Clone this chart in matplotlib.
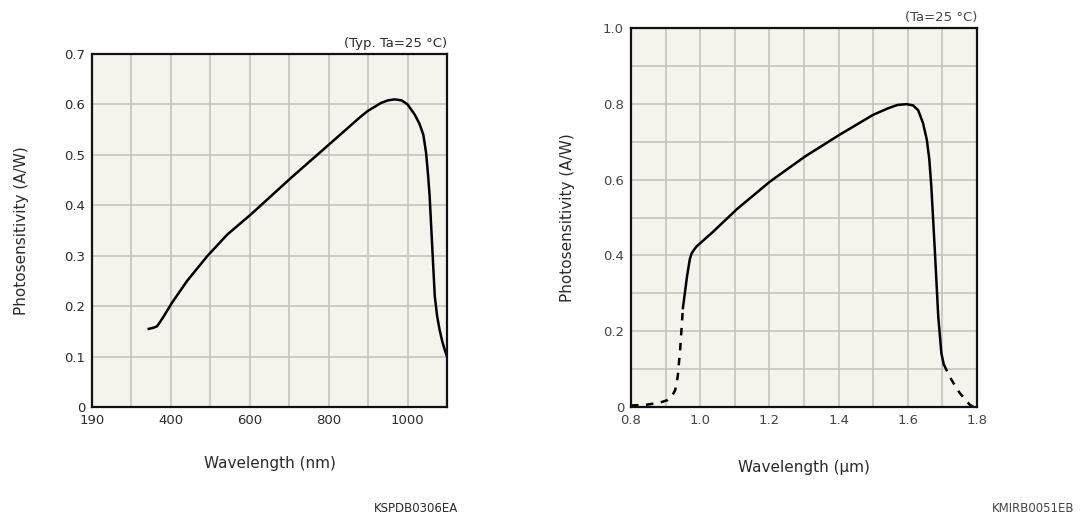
import matplotlib
matplotlib.use("Agg")
import matplotlib.pyplot as plt

# Left chart: Si photodiode (nm, A/W)
si_wavelength = [344, 355, 365, 372, 382, 403, 441, 492, 543, 603, 704, 806, 880,
                 899, 933, 950, 967, 985, 1000, 1018, 1030, 1040, 1047, 1052, 1056,
                 1062, 1069, 1075, 1081, 1088, 1094, 1100]
si_sensitivity = [0.155, 0.157, 0.160, 0.168, 0.180, 0.207, 0.250, 0.299, 0.342,
                  0.382, 0.454, 0.524, 0.575, 0.587, 0.603, 0.608, 0.610, 0.608,
                  0.600, 0.580, 0.562, 0.540, 0.504, 0.460, 0.418, 0.326, 0.220,
                  0.180, 0.154, 0.130, 0.114, 0.100]
si_ticks = [200, 400, 600, 800, 1000]
si_tick_labels = ["190", "400", "600", "800", "1000"]

# Right chart: InGaAs (um, A/W) - solid part and dashed tails
ingaas_wavelength = [0.950, 0.962, 0.970, 0.975, 0.983, 0.990, 1.038, 1.106, 1.202,
                     1.303, 1.404, 1.500, 1.540, 1.570, 1.596, 1.615, 1.630, 1.644,
                     1.655, 1.662, 1.668, 1.678, 1.688, 1.697, 1.704]
ingaas_sensitivity = [0.261, 0.345, 0.390, 0.405, 0.416, 0.424, 0.463, 0.522, 0.595,
                      0.661, 0.719, 0.771, 0.787, 0.797, 0.799, 0.796, 0.783, 0.749,
                      0.705, 0.655, 0.582, 0.415, 0.239, 0.142, 0.112]
tail_left_wavelength = [0.800, 0.846, 0.885, 0.905, 0.918, 0.928, 0.935, 0.942, 0.950]
tail_left_sensitivity = [0.004, 0.006, 0.012, 0.018, 0.028, 0.045, 0.080, 0.151, 0.261]
tail_right_wavelength = [1.704, 1.726, 1.750, 1.779, 1.790]
tail_right_sensitivity = [0.112, 0.072, 0.037, 0.006, 0.0]

W, H = 1082, 520
fig = plt.figure(figsize=(W / 100, H / 100), dpi=100)
fig.patch.set_facecolor("white")

bg = "#f4f3ec"
grid_color = "#c4c4bc"
text_color = "#2a2a2a"


def px_axes(x0, y0, x1, y1):
    return fig.add_axes([x0 / W, 1 - y1 / H, (x1 - x0) / W, (y1 - y0) / H])


def style(ax):
    ax.set_facecolor(bg)
    ax.grid(True, color=grid_color, linewidth=1.2)
    ax.set_axisbelow(True)
    for s in ax.spines.values():
        s.set_linewidth(1.6)
        s.set_color("#111111")
    ax.tick_params(length=0, labelsize=9.5, labelcolor=text_color, pad=5)


# left
ax1 = px_axes(92, 54, 447, 407)
style(ax1)
ax1.plot(si_wavelength, si_sensitivity, color="black", linewidth=1.8)
ax1.set_xlim(200, 1100)
ax1.set_ylim(0, 0.7)
ax1.set_xticks(si_ticks)
ax1.set_xticklabels(si_tick_labels)
ax1.set_xticks(range(300, 1100, 200), minor=True)
ax1.xaxis.grid(True, which="minor", color=grid_color, linewidth=1.2)
ax1.tick_params(which="minor", length=0)
ax1.set_yticks([0, 0.1, 0.2, 0.3, 0.4, 0.5, 0.6, 0.7])
ax1.set_yticklabels(["0", "0.1", "0.2", "0.3", "0.4", "0.5", "0.6", "0.7"])
ax1.set_ylabel("Photosensitivity (A/W)", fontsize=11, color=text_color, labelpad=25)
ax1.set_xlabel("Wavelength (nm)", fontsize=11, color=text_color, labelpad=21)
ax1.text(1.0, 1.01, "(Typ. Ta=25 °C)", transform=ax1.transAxes, ha="right",
         va="bottom", fontsize=9.5, color=text_color)
fig.text(458 / W, 1 - 508 / H, "KSPDB0306EA", ha="right", va="center",
         fontsize=8.5, color=text_color)

# right
ax2 = px_axes(631, 28, 977, 407)
style(ax2)
ax2.plot(ingaas_wavelength, ingaas_sensitivity, color="black", linewidth=1.8)
ax2.plot(tail_left_wavelength, tail_left_sensitivity, color="black", linewidth=1.8,
         linestyle=(0, (3, 3)))
ax2.plot(tail_right_wavelength, tail_right_sensitivity, color="black", linewidth=1.8,
         linestyle=(0, (3, 3)))
ax2.set_xlim(0.8, 1.8)
ax2.set_ylim(0, 1.0)
ax2.set_xticks([0.8, 1.0, 1.2, 1.4, 1.6, 1.8])
ax2.set_xticklabels(["0.8", "1.0", "1.2", "1.4", "1.6", "1.8"])
ax2.set_xticks([0.9, 1.1, 1.3, 1.5, 1.7], minor=True)
ax2.set_yticks([0, 0.2, 0.4, 0.6, 0.8, 1.0])
ax2.set_yticklabels(["0", "0.2", "0.4", "0.6", "0.8", "1.0"])
ax2.set_yticks([0.1, 0.3, 0.5, 0.7, 0.9], minor=True)
ax2.grid(True, which="minor", color=grid_color, linewidth=1.2)
ax2.tick_params(which="minor", length=0)
ax2.tick_params(labelcolor="#444444")
ax2.set_ylabel("Photosensitivity (A/W)", fontsize=11, color=text_color, labelpad=20)
ax2.set_xlabel("Wavelength (µm)", fontsize=11, color=text_color, labelpad=24)
ax2.text(1.0, 1.01, "(Ta=25 °C)", transform=ax2.transAxes, ha="right",
         va="bottom", fontsize=9.5, color="#444444")
fig.text(1074 / W, 1 - 508 / H, "KMIRB0051EB", ha="right", va="center",
         fontsize=8.5, color="#444444")

fig.savefig("out.png", dpi=100, facecolor="white")
